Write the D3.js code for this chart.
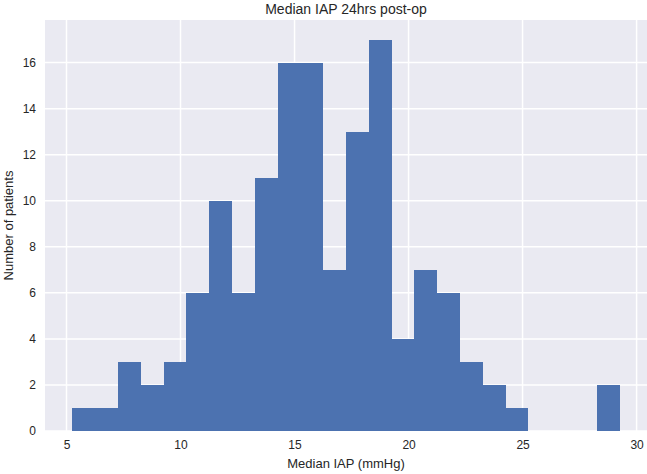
<!DOCTYPE html>
<html>
<head>
<meta charset="utf-8">
<script src="https://cdn.jsdelivr.net/npm/d3@7"></script>
<style>
  html, body { margin: 0; padding: 0; background: #fff; }
  svg { display: block; }
  text { font-family: "Liberation Sans", Arial, sans-serif; fill: #262626; }
</style>
</head>
<body>
<svg id="chart" width="647" height="474"></svg>
<script>
// Histogram of median IAP 24hrs post-op, bins of width 1 mmHg
const binStart = 5.257;
const binWidth = 1;
const counts = [1, 1, 3, 2, 3, 6, 10, 6, 11, 16, 16, 7, 13, 17, 4, 7, 6, 3, 2, 1, 0, 0, 0, 2];
const xTicks = [5, 10, 15, 20, 25, 30];
const yTicks = [0, 2, 4, 6, 8, 10, 12, 14, 16];
const title = "Median IAP 24hrs post-op";
const xLabel = "Median IAP (mmHg)";
const yLabel = "Number of patients";

const bins = counts.map((c, i) => ({ x0: binStart + i * binWidth, x1: binStart + (i + 1) * binWidth, count: c }));

const W = 647, H = 474;
const m = { left: 45, right: 0, top: 20, bottom: 474 - 431 };
const svg = d3.select("#chart");

const dataMin = bins[0].x0, dataMax = bins[bins.length - 1].x1;
const pad = (dataMax - dataMin) * 0.05;
const x = d3.scaleLinear().domain([dataMin - pad, dataMax + pad]).range([m.left, W - m.right]);
const yMax = d3.max(counts) * 1.05;
const y = d3.scaleLinear().domain([0, yMax]).range([H - m.bottom, m.top]);

// background
svg.append("rect")
  .attr("x", m.left).attr("y", m.top)
  .attr("width", W - m.right - m.left).attr("height", H - m.bottom - m.top)
  .attr("fill", "#EAEAF2");

// grid
const g = svg.append("g");
g.selectAll(".gx").data(xTicks).join("line")
  .attr("x1", d => x(d)).attr("x2", d => x(d))
  .attr("y1", m.top).attr("y2", H - m.bottom)
  .attr("stroke", "#fff").attr("stroke-width", 1.5);
g.selectAll(".gy").data(yTicks).join("line")
  .attr("x1", m.left).attr("x2", W - m.right)
  .attr("y1", d => y(d)).attr("y2", d => y(d))
  .attr("stroke", "#fff").attr("stroke-width", 1.5);

// bars
svg.append("g").attr("shape-rendering", "crispEdges")
  .selectAll("rect").data(bins.filter(b => b.count > 0)).join("rect")
  .attr("x", d => Math.round(x(d.x0)))
  .attr("width", d => Math.round(x(d.x1)) - Math.round(x(d.x0)))
  .attr("y", d => Math.round(y(d.count)))
  .attr("height", d => Math.round(y(0)) - Math.round(y(d.count)))
  .attr("fill", "#4C72B0");

// axes (no domain lines, no tick marks)
const xAxis = d3.axisBottom(x).tickValues(xTicks).tickSize(0).tickPadding(9).tickFormat(d3.format("d"));
svg.append("g").attr("transform", `translate(0,${H - m.bottom})`).call(xAxis)
  .call(a => a.select(".domain").remove())
  .selectAll("text").style("font-size", "12px").attr("fill", "#262626")
  .style("font-family", '"Liberation Sans", Arial, sans-serif');

const yAxis = d3.axisLeft(y).tickValues(yTicks).tickSize(0).tickPadding(9).tickFormat(d3.format("d"));
svg.append("g").attr("transform", `translate(${m.left},0)`).call(yAxis)
  .call(a => a.select(".domain").remove())
  .selectAll("text").style("font-size", "12px").attr("fill", "#262626")
  .style("font-family", '"Liberation Sans", Arial, sans-serif');

// title & labels
const cx = (m.left + W - m.right) / 2;
svg.append("text").attr("x", cx).attr("y", 14).attr("text-anchor", "middle")
  .style("font-size", "14px").text(title);
svg.append("text").attr("x", cx).attr("y", 468).attr("text-anchor", "middle")
  .style("font-size", "13px").text(xLabel);
svg.append("text").attr("transform", `translate(13,${(m.top + H - m.bottom) / 2}) rotate(-90)`)
  .attr("text-anchor", "middle").style("font-size", "13px").text(yLabel);
</script>
</body>
</html>
